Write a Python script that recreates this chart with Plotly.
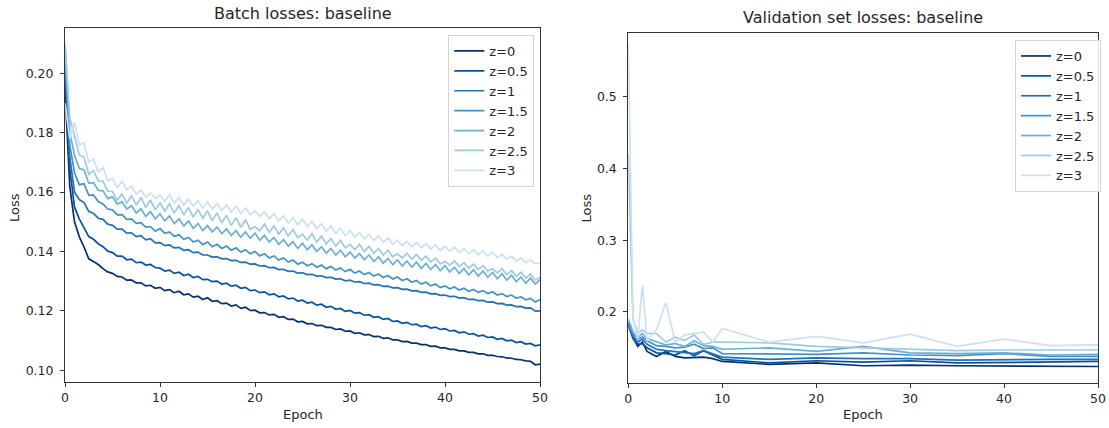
import numpy as np
import plotly.graph_objects as go

# ---------------- data ----------------
z_labels = ["z=0", "z=0.5", "z=1", "z=1.5", "z=2", "z=2.5", "z=3"]
colors = ["#08306b", "#08519c", "#2171b5", "#4292c6", "#6baed6", "#9ecae1", "#cde0f1"]

# batch losses sampled every half epoch (0 .. 50)
batch_epochs = np.arange(0, 50.5, 0.5)

batch_z0 = [0.1950, 0.1620, 0.1500, 0.1450, 0.1415, 0.1375, 0.1366, 0.1356, 0.1342, 0.1331, 0.1326,
            0.1316, 0.1314, 0.1303, 0.1304, 0.1294, 0.1294, 0.1284, 0.1286, 0.1276, 0.1279,
            0.1268, 0.1271, 0.1261, 0.1266, 0.1254, 0.1257, 0.1246, 0.1249, 0.1238, 0.1244,
            0.1232, 0.1234, 0.1224, 0.1226, 0.1216, 0.1220, 0.1208, 0.1212, 0.1201, 0.1202,
            0.1193, 0.1194, 0.1186, 0.1188, 0.1178, 0.1180, 0.1171, 0.1172, 0.1163, 0.1164,
            0.1156, 0.1157, 0.1150, 0.1151, 0.1144, 0.1144, 0.1137, 0.1139, 0.1131, 0.1132,
            0.1124, 0.1126, 0.1119, 0.1120, 0.1113, 0.1114, 0.1107, 0.1109, 0.1102, 0.1102,
            0.1096, 0.1097, 0.1091, 0.1091, 0.1086, 0.1086, 0.1080, 0.1081, 0.1075, 0.1075,
            0.1070, 0.1070, 0.1065, 0.1065, 0.1060, 0.1060, 0.1055, 0.1055, 0.1050, 0.1050,
            0.1046, 0.1045, 0.1041, 0.1040, 0.1036, 0.1035, 0.1031, 0.1030, 0.1018, 0.1020]

batch_z05 = [0.2000, 0.1680, 0.1550, 0.1510, 0.1480, 0.1450, 0.1441, 0.1426, 0.1416, 0.1401, 0.1396,
             0.1384, 0.1384, 0.1372, 0.1374, 0.1362, 0.1364, 0.1354, 0.1356, 0.1346, 0.1344,
             0.1334, 0.1337, 0.1326, 0.1330, 0.1319, 0.1323, 0.1312, 0.1316, 0.1305, 0.1306,
             0.1298, 0.1300, 0.1290, 0.1293, 0.1283, 0.1286, 0.1276, 0.1279, 0.1268, 0.1270,
             0.1261, 0.1264, 0.1254, 0.1257, 0.1247, 0.1250, 0.1240, 0.1243, 0.1233, 0.1236,
             0.1226, 0.1229, 0.1219, 0.1222, 0.1212, 0.1215, 0.1205, 0.1208, 0.1198, 0.1201,
             0.1192, 0.1194, 0.1185, 0.1187, 0.1178, 0.1180, 0.1171, 0.1174, 0.1164, 0.1166,
             0.1158, 0.1161, 0.1153, 0.1155, 0.1147, 0.1150, 0.1142, 0.1145, 0.1137, 0.1140,
             0.1132, 0.1134, 0.1126, 0.1129, 0.1121, 0.1123, 0.1115, 0.1118, 0.1110, 0.1112,
             0.1104, 0.1107, 0.1099, 0.1101, 0.1093, 0.1096, 0.1088, 0.1090, 0.1082, 0.1085]

batch_z1 = [0.2050, 0.1720, 0.1600, 0.1575, 0.1565, 0.1535, 0.1528, 0.1512, 0.1508, 0.1492, 0.1488,
            0.1475, 0.1475, 0.1462, 0.1463, 0.1450, 0.1453, 0.1439, 0.1443, 0.1429, 0.1430,
            0.1420, 0.1422, 0.1412, 0.1414, 0.1404, 0.1406, 0.1396, 0.1398, 0.1388, 0.1388,
            0.1381, 0.1382, 0.1375, 0.1376, 0.1369, 0.1370, 0.1363, 0.1364, 0.1357, 0.1358,
            0.1351, 0.1352, 0.1345, 0.1346, 0.1339, 0.1340, 0.1333, 0.1334, 0.1327, 0.1328,
            0.1322, 0.1323, 0.1317, 0.1318, 0.1312, 0.1313, 0.1307, 0.1308, 0.1301, 0.1303,
            0.1297, 0.1298, 0.1292, 0.1293, 0.1287, 0.1288, 0.1282, 0.1283, 0.1277, 0.1278,
            0.1272, 0.1273, 0.1267, 0.1268, 0.1262, 0.1263, 0.1257, 0.1258, 0.1252, 0.1253,
            0.1248, 0.1249, 0.1243, 0.1244, 0.1238, 0.1239, 0.1234, 0.1235, 0.1229, 0.1230,
            0.1224, 0.1225, 0.1219, 0.1220, 0.1214, 0.1215, 0.1209, 0.1210, 0.1199, 0.1200]

batch_z15 = [0.2050, 0.1760, 0.1665, 0.1625, 0.1628, 0.1590, 0.1590, 0.1568, 0.1560, 0.1543, 0.1540,
             0.1523, 0.1524, 0.1508, 0.1510, 0.1495, 0.1497, 0.1482, 0.1484, 0.1468, 0.1477,
             0.1461, 0.1466, 0.1451, 0.1456, 0.1441, 0.1447, 0.1432, 0.1438, 0.1423, 0.1432,
             0.1416, 0.1424, 0.1410, 0.1418, 0.1404, 0.1412, 0.1398, 0.1406, 0.1392, 0.1400,
             0.1385, 0.1392, 0.1378, 0.1385, 0.1371, 0.1378, 0.1364, 0.1371, 0.1357, 0.1364,
             0.1352, 0.1359, 0.1347, 0.1354, 0.1342, 0.1349, 0.1337, 0.1344, 0.1332, 0.1340,
             0.1327, 0.1334, 0.1322, 0.1329, 0.1317, 0.1324, 0.1312, 0.1319, 0.1307, 0.1314,
             0.1302, 0.1308, 0.1296, 0.1302, 0.1290, 0.1296, 0.1284, 0.1290, 0.1278, 0.1284,
             0.1274, 0.1280, 0.1270, 0.1276, 0.1266, 0.1272, 0.1262, 0.1268, 0.1258, 0.1264,
             0.1253, 0.1258, 0.1248, 0.1253, 0.1243, 0.1247, 0.1237, 0.1242, 0.1230, 0.1238]

batch_z2 = [0.2100, 0.1800, 0.1725, 0.1680, 0.1675, 0.1630, 0.1632, 0.1606, 0.1604, 0.1578, 0.1584,
            0.1560, 0.1567, 0.1543, 0.1554, 0.1530, 0.1544, 0.1518, 0.1534, 0.1510, 0.1527,
            0.1503, 0.1520, 0.1494, 0.1510, 0.1486, 0.1502, 0.1478, 0.1494, 0.1470, 0.1487,
            0.1466, 0.1482, 0.1460, 0.1476, 0.1454, 0.1470, 0.1448, 0.1466, 0.1444, 0.1462,
            0.1438, 0.1454, 0.1432, 0.1447, 0.1424, 0.1440, 0.1418, 0.1433, 0.1410, 0.1428,
            0.1406, 0.1422, 0.1400, 0.1416, 0.1394, 0.1410, 0.1388, 0.1404, 0.1382, 0.1398,
            0.1378, 0.1393, 0.1372, 0.1388, 0.1366, 0.1382, 0.1360, 0.1377, 0.1355, 0.1372,
            0.1351, 0.1368, 0.1347, 0.1364, 0.1343, 0.1360, 0.1339, 0.1356, 0.1335, 0.1352,
            0.1331, 0.1347, 0.1326, 0.1342, 0.1321, 0.1338, 0.1317, 0.1334, 0.1313, 0.1330,
            0.1308, 0.1325, 0.1303, 0.1320, 0.1298, 0.1314, 0.1293, 0.1310, 0.1290, 0.1305]

batch_z25 = [0.2100, 0.1850, 0.1790, 0.1725, 0.1718, 0.1660, 0.1672, 0.1638, 0.1637, 0.1603, 0.1602,
             0.1573, 0.1594, 0.1563, 0.1587, 0.1556, 0.1582, 0.1548, 0.1574, 0.1540, 0.1564,
             0.1536, 0.1560, 0.1530, 0.1554, 0.1523, 0.1548, 0.1516, 0.1542, 0.1511, 0.1537,
             0.1504, 0.1530, 0.1496, 0.1522, 0.1488, 0.1514, 0.1481, 0.1507, 0.1474, 0.1484,
             0.1470, 0.1492, 0.1464, 0.1486, 0.1458, 0.1480, 0.1452, 0.1474, 0.1446, 0.1458,
             0.1438, 0.1460, 0.1432, 0.1452, 0.1425, 0.1444, 0.1418, 0.1437, 0.1412, 0.1424,
             0.1406, 0.1424, 0.1400, 0.1417, 0.1394, 0.1410, 0.1388, 0.1404, 0.1382, 0.1392,
             0.1378, 0.1394, 0.1374, 0.1390, 0.1370, 0.1384, 0.1364, 0.1378, 0.1358, 0.1367,
             0.1354, 0.1368, 0.1349, 0.1362, 0.1344, 0.1357, 0.1339, 0.1352, 0.1334, 0.1342,
             0.1328, 0.1342, 0.1322, 0.1336, 0.1316, 0.1330, 0.1310, 0.1324, 0.1304, 0.1312]

batch_z3 = [0.1900, 0.1780, 0.1835, 0.1760, 0.1765, 0.1700, 0.1712, 0.1668, 0.1682, 0.1638, 0.1647,
            0.1613, 0.1637, 0.1608, 0.1620, 0.1593, 0.1607, 0.1583, 0.1597, 0.1578, 0.1590,
            0.1568, 0.1592, 0.1563, 0.1582, 0.1556, 0.1577, 0.1553, 0.1572, 0.1546, 0.1567,
            0.1543, 0.1562, 0.1538, 0.1557, 0.1533, 0.1552, 0.1528, 0.1547, 0.1523, 0.1537,
            0.1518, 0.1534, 0.1510, 0.1527, 0.1503, 0.1520, 0.1496, 0.1514, 0.1490, 0.1508,
            0.1484, 0.1502, 0.1476, 0.1494, 0.1468, 0.1486, 0.1460, 0.1478, 0.1453, 0.1470,
            0.1448, 0.1464, 0.1442, 0.1458, 0.1436, 0.1452, 0.1430, 0.1446, 0.1424, 0.1438,
            0.1420, 0.1434, 0.1416, 0.1430, 0.1412, 0.1426, 0.1408, 0.1422, 0.1404, 0.1417,
            0.1400, 0.1414, 0.1396, 0.1410, 0.1392, 0.1406, 0.1388, 0.1402, 0.1384, 0.1397,
            0.1380, 0.1390, 0.1374, 0.1384, 0.1368, 0.1378, 0.1362, 0.1372, 0.1358, 0.1362]

# validation losses
val_epochs = [0, 0.5, 1, 1.5, 2, 3, 4, 5, 6, 7, 8, 9, 10, 15, 20, 25, 30, 35, 40, 45, 50]
val_z0 = [0.185, 0.165, 0.152, 0.158, 0.145, 0.138, 0.145, 0.138, 0.136, 0.136, 0.137, 0.135, 0.131,
          0.127, 0.129, 0.125, 0.126, 0.125, 0.125, 0.124, 0.124]
val_z05 = [0.182, 0.163, 0.155, 0.156, 0.150, 0.143, 0.142, 0.140, 0.146, 0.139, 0.146, 0.140, 0.134,
           0.129, 0.132, 0.130, 0.132, 0.129, 0.130, 0.130, 0.131]
val_z1 = [0.180, 0.166, 0.158, 0.162, 0.155, 0.148, 0.146, 0.145, 0.143, 0.142, 0.146, 0.142, 0.137,
          0.134, 0.136, 0.135, 0.135, 0.133, 0.134, 0.134, 0.134]
val_z15 = [0.183, 0.170, 0.162, 0.165, 0.160, 0.153, 0.152, 0.150, 0.151, 0.155, 0.149, 0.150, 0.142,
           0.141, 0.141, 0.143, 0.140, 0.139, 0.142, 0.138, 0.138]
val_z2 = [0.190, 0.172, 0.164, 0.170, 0.163, 0.158, 0.154, 0.156, 0.152, 0.160, 0.153, 0.152, 0.148,
          0.150, 0.145, 0.152, 0.143, 0.142, 0.143, 0.140, 0.141]
val_z25 = [0.420, 0.190, 0.170, 0.175, 0.170, 0.170, 0.158, 0.165, 0.160, 0.168, 0.155, 0.158, 0.158,
           0.157, 0.152, 0.150, 0.147, 0.146, 0.147, 0.147, 0.147]
val_z3 = [0.575, 0.192, 0.162, 0.238, 0.160, 0.175, 0.213, 0.158, 0.168, 0.170, 0.172, 0.158, 0.177,
          0.158, 0.166, 0.157, 0.169, 0.152, 0.162, 0.153, 0.154]

batch_series = [batch_z0, batch_z05, batch_z1, batch_z15, batch_z2, batch_z25, batch_z3]
val_series = [val_z0, val_z05, val_z1, val_z15, val_z2, val_z25, val_z3]

# ---------------- figure ----------------
W, H = 1109, 428
FONT = "DejaVu Sans"
TXT = "#262626"

def px_x(p):
    return p / W

def px_y(p):
    return 1 - p / H

fig = go.Figure()
for lab, col, ys in zip(z_labels, colors, batch_series):
    fig.add_trace(go.Scatter(x=batch_epochs, y=ys, mode="lines", name=lab,
                             line=dict(color=col, width=1.7), xaxis="x", yaxis="y",
                             legend="legend"))
for lab, col, ys in zip(z_labels, colors, val_series):
    fig.add_trace(go.Scatter(x=val_epochs, y=ys, mode="lines", name=lab,
                             line=dict(color=col, width=1.7), xaxis="x2", yaxis="y2",
                             legend="legend2"))

axis_common = dict(showline=True, mirror=True, linecolor="#333333", linewidth=1,
                   ticks="outside", ticklen=4, tickwidth=1, tickcolor="#333333",
                   showgrid=False, zeroline=False, automargin=False,
                   tickfont=dict(family=FONT, size=12.5, color=TXT))

legend_common = dict(bgcolor="rgba(255,255,255,0.85)", bordercolor="#d4d4d4", borderwidth=1,
                     font=dict(family=FONT, size=13, color=TXT), xanchor="right",
                     yanchor="top", itemwidth=30, tracegroupgap=0)

fig.update_layout(
    width=W, height=H,
    margin=dict(l=0, r=0, t=0, b=0, autoexpand=False),
    paper_bgcolor="white", plot_bgcolor="white",
    font=dict(family=FONT, color=TXT),
    showlegend=True,
    xaxis=dict(domain=[px_x(65), px_x(540)], range=[0, 50], tickvals=[0, 10, 20, 30, 40, 50],
               anchor="y", **axis_common),
    yaxis=dict(domain=[px_y(382.3), px_y(28.3)], range=[0.0959, 0.2152],
               tickvals=[0.10, 0.12, 0.14, 0.16, 0.18, 0.20], tickformat=".2f",
               anchor="x", ticklabelstandoff=4, **axis_common),
    xaxis2=dict(domain=[px_x(628.3), px_x(1098)], range=[0, 50], tickvals=[0, 10, 20, 30, 40, 50],
                anchor="y2", **axis_common),
    yaxis2=dict(domain=[px_y(382.7), px_y(33.3)], range=[0.1014, 0.5884],
                tickvals=[0.2, 0.3, 0.4, 0.5], tickformat=".1f",
                anchor="x2", ticklabelstandoff=4, **axis_common),
    legend=dict(x=px_x(534.3), y=px_y(35), **legend_common),
    legend2=dict(x=px_x(1101), y=px_y(40), **legend_common),
)

annots = [
    ("Batch losses: baseline", 302.5, 14, 16, 0),
    ("Validation set losses: baseline", 863, 18, 16, 0),
    ("Epoch", 302.5, 414, 13, 0),
    ("Epoch", 863, 414, 13, 0),
    ("Loss", 14, 208, 13, -90),
    ("Loss", 585.5, 208, 13, -90),
]
for text, x, y, size, ang in annots:
    fig.add_annotation(text=text, x=px_x(x), y=px_y(y), xref="paper", yref="paper",
                       showarrow=False, xanchor="center", yanchor="middle", textangle=ang,
                       font=dict(family=FONT, size=size, color=TXT))

# remove the default 8px page margin so the figure fills the window exactly
fig.write_html("out.html",
               config={"displayModeBar": False},
               post_script="document.body.style.margin='0';document.body.style.overflow='hidden';")
